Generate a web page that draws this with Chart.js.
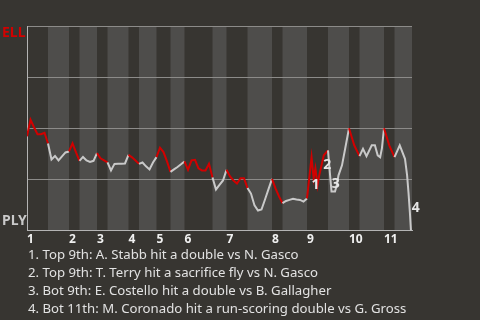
<!DOCTYPE html>
<html>
<head>
<meta charset="utf-8">
<script src="https://cdn.jsdelivr.net/npm/chart.js@4"></script>
<style>
  body { margin: 0; background: #373531; }
  #wrap { position: relative; width: 480px; height: 320px; }
  #notes {
    position: absolute; left: 28px; top: 245px;
    font: 13.2px "Noto Sans", sans-serif; line-height: 18px; color: #e2e2e2;
  }
</style>
</head>
<body>
<div id="wrap">
  <canvas id="wp" width="480" height="320"></canvas>
  <div id="notes">
    <div>1. Top 9th: A. Stabb hit a double vs N. Gasco</div>
    <div>2. Top 9th: T. Terry hit a sacrifice fly vs N. Gasco</div>
    <div>3. Bot 9th: E. Costello hit a double vs B. Gallagher</div>
    <div>4. Bot 11th: M. Coronado hit a run-scoring double vs G. Gross</div>
  </div>
</div>
<script>
// play index where each half inning starts (top 1, bottom 1, top 2, ...)
const halfStarts = [0, 6, 12, 15, 20, 23, 29, 32, 37, 41, 45, 53, 57, 63, 70, 73, 80, 86, 92, 95, 102, 105];
const lastPlay = 110;
const inningLabels = ['1', '2', '3', '4', '5', '6', '7', '8', '9', '10', '11'];

// win probability for ELL after each play
const playX = [
  0, 1, 2, 3, 4, 5,
  6, 7, 8, 9, 10, 11,
  12, 13, 14,
  15, 16, 17, 18, 19,
  20, 21, 22,
  23, 24, 25, 26, 27, 28,
  29, 30, 31,
  32, 33, 34, 35, 36,
  37, 38, 39, 40,
  41, 42, 43, 44,
  45, 46, 47, 48, 49, 50, 51, 52,
  53, 54, 55, 56,
  57, 58, 59, 60, 61, 62,
  63, 64, 65, 66, 67, 68, 69,
  70, 71, 72,
  73, 74, 75, 76, 77, 78, 79,
  80, 81.3, 81.9, 82.4, 83, 83.5, 84.8,
  86, 86.6, 87, 88, 88.5, 89, 90, 90.9,
  92, 93.5,
  95, 96, 97, 98.5, 99.4, 100.2, 100.9, 101.4,
  102, 103.5,
  105, 106.5, 108, 108.6, 109, 109.4, 109.7
];
const winProb = [
  0.461, 0.542, 0.505, 0.471, 0.471, 0.478,
  0.426, 0.348, 0.365, 0.343, 0.363, 0.382,
  0.387, 0.426, 0.382,
  0.341, 0.360, 0.343, 0.336, 0.341,
  0.379, 0.353, 0.343,
  0.333, 0.294, 0.326, 0.327, 0.327, 0.328,
  0.370, 0.358, 0.343,
  0.326, 0.333, 0.314, 0.299, 0.333,
  0.359, 0.405, 0.384, 0.338,
  0.287, 0.299, 0.311, 0.324,
  0.338, 0.297, 0.343, 0.346, 0.304, 0.294, 0.294, 0.327,
  0.260, 0.201, 0.223, 0.245,
  0.297, 0.265, 0.245, 0.230, 0.256, 0.256,
  0.208, 0.181, 0.123, 0.098, 0.103, 0.152, 0.203,
  0.253, 0.206, 0.167,
  0.134, 0.145, 0.150, 0.155, 0.152, 0.150, 0.142,
  0.157, 0.358, 0.255, 0.304, 0.221, 0.270, 0.368,
  0.392, 0.270, 0.191, 0.191, 0.221, 0.270, 0.319, 0.400,
  0.5, 0.417,
  0.364, 0.400, 0.364, 0.417, 0.417, 0.368, 0.359, 0.402,
  0.5, 0.417,
  0.359, 0.417, 0.351, 0.270, 0.186, 0.088, 0
];

// numbered key plays, label anchors in data units
const eventLabels = ['1', '2', '3', '4'];
const eventX = [82.4, 85.8, 88.2, 111.1];
const eventY = [0.224, 0.322, 0.229, 0.109];

const RED = '#d20000';
const WHITE = '#c9c9c9';

function isTopHalf(x) {
  let idx = 0;
  for (let i = 0; i < halfStarts.length; i++) {
    if (x >= halfStarts[i]) idx = i;
  }
  return idx % 2 === 0;
}

const bands = {
  id: 'bands',
  beforeDraw(chart) {
    const { ctx, chartArea: a, scales: { x } } = chart;
    ctx.save();
    ctx.fillStyle = '#4e4d4b';
    for (let i = 1; i < halfStarts.length; i += 2) {
      const x0 = x.getPixelForValue(halfStarts[i]);
      const end = i + 1 < halfStarts.length ? halfStarts[i + 1] : lastPlay;
      const x1 = x.getPixelForValue(end);
      ctx.fillRect(x0, a.top, x1 - x0, a.bottom - a.top);
    }
    ctx.restore();
  }
};

const labels = {
  id: 'labels',
  afterDatasetsDraw(chart) {
    const { ctx, scales: { x, y } } = chart;
    ctx.save();
    ctx.textBaseline = 'middle';
    ctx.textAlign = 'left';
    ctx.font = 'bold 14px "Noto Sans"';
    ctx.fillStyle = RED;
    ctx.fillText('ELL', 2, 33);
    ctx.fillStyle = WHITE;
    ctx.fillText('PLY', 2, 221);
    ctx.textAlign = 'center';
    ctx.fillStyle = '#e6e6e6';
    eventLabels.forEach((t, i) => {
      ctx.fillText(t, x.getPixelForValue(eventX[i]), y.getPixelForValue(eventY[i]));
    });
    ctx.restore();
  }
};

new Chart(document.getElementById('wp'), {
  type: 'line',
  data: {
    datasets: [{
      data: playX.map((v, i) => ({ x: v, y: winProb[i] })),
      borderWidth: 2,
      pointRadius: 0,
      tension: 0,
      segment: {
        borderColor: c => isTopHalf(c.p0.parsed.x) ? RED : WHITE
      }
    }]
  },
  options: {
    responsive: false,
    animation: false,
    layout: { padding: { left: 27, top: 26, right: 68, bottom: 71 } },
    plugins: { legend: { display: false }, tooltip: { enabled: false } },
    scales: {
      x: {
        type: 'linear',
        min: 0,
        max: lastPlay,
        grid: { display: false, drawTicks: false },
        border: { color: '#b4b4b4', width: 1 },
        afterBuildTicks: s => { s.ticks = halfStarts.filter((v, i) => i % 2 === 0).map(v => ({ value: v })); },
        ticks: {
          autoSkip: false,
          maxRotation: 0,
          align: 'start',
          padding: 2,
          color: '#f0f0f0',
          font: { family: 'Noto Sans', size: 12, weight: 'bold' },
          callback: (v, i) => inningLabels[i]
        }
      },
      y: {
        min: 0,
        max: 1,
        ticks: { display: false, stepSize: 0.25 },
        grid: { color: '#8c8b89', drawTicks: false },
        border: { color: '#b4b4b4', width: 1 }
      }
    }
  },
  plugins: [bands, labels]
});
</script>
</body>
</html>
